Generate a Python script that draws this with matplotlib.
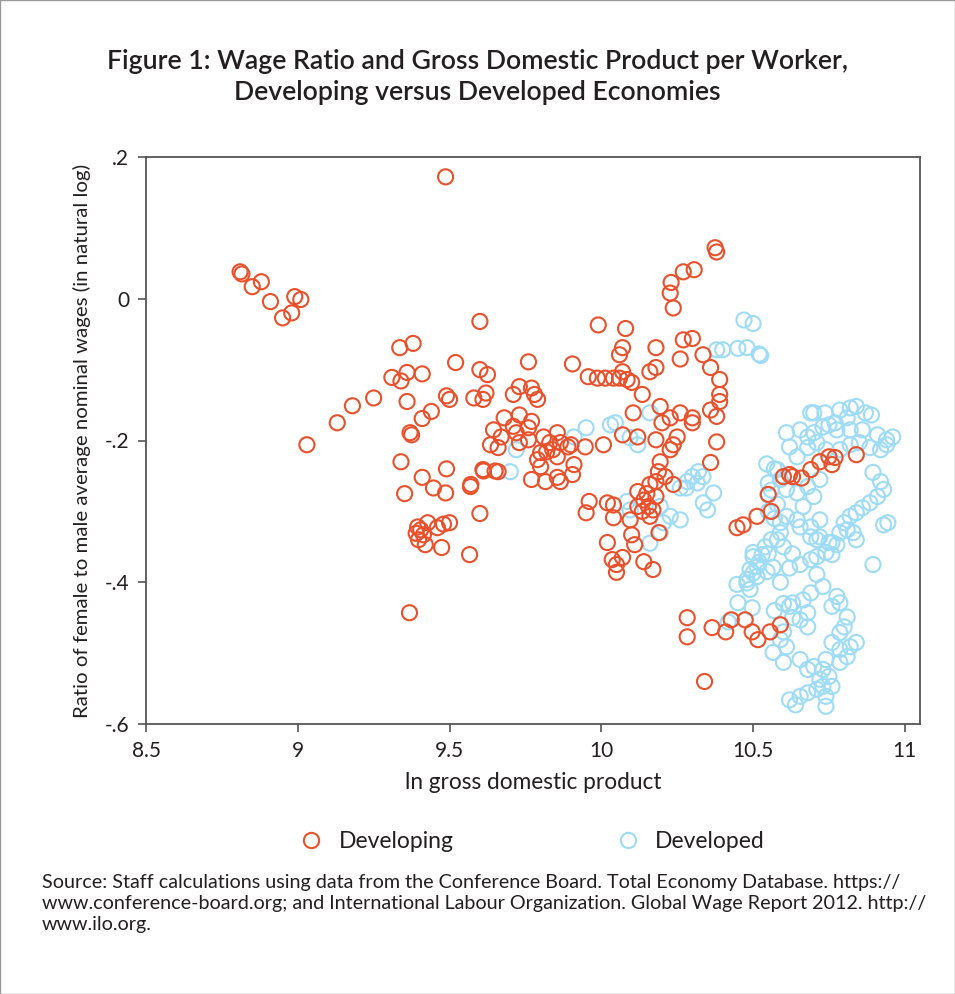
import matplotlib
matplotlib.use("Agg")
import matplotlib.pyplot as plt
from matplotlib.lines import Line2D
from matplotlib.patches import Rectangle

# ── data ──────────────────────────────────────────────────────────────────────

DEV_X = [
    8.81, 8.816, 8.85, 8.88, 8.91, 8.95, 8.98, 8.99, 9.01, 9.03, 9.13, 9.18,
    9.336, 9.38, 9.52, 9.31, 9.34, 9.36, 9.41, 9.25, 9.36, 9.44, 9.41, 9.37,
    9.375, 9.49, 9.50, 9.34, 9.41, 9.49, 9.352, 9.447, 9.487, 9.569, 9.612,
    9.65, 9.60, 9.395, 9.405, 9.414, 9.398, 9.42, 9.428, 9.39, 9.46, 9.48,
    9.50, 9.474, 9.566, 9.368, 9.487,
    9.60, 9.99, 9.60, 9.625, 9.76, 9.905, 9.957, 9.987, 10.013, 10.04, 10.06,
    10.085, 10.10, 10.07, 9.58, 9.62, 9.61, 9.71, 9.73, 9.77, 9.78, 9.79,
    9.68, 9.73, 9.77, 9.645, 9.71, 9.72, 9.76, 9.67, 9.635, 9.66, 9.73, 9.76,
    9.81, 9.855, 9.83, 9.865, 9.89, 9.80, 9.82, 9.84, 9.90, 9.79, 9.855, 9.80,
    9.91, 9.77, 9.816, 9.855, 9.865, 9.905, 9.947, 10.007, 9.61, 9.66, 9.57,
    9.96, 9.95, 10.02,
    10.375, 10.38, 10.27, 10.306, 10.23, 10.227, 10.237, 10.08, 10.07, 10.06,
    10.18, 10.27, 10.30, 10.26, 10.335, 10.36, 10.16, 10.18, 10.135, 10.194,
    10.105, 10.26, 10.30, 10.36, 10.39, 10.39, 10.39, 10.38,
    10.07, 10.12, 10.18, 10.20, 10.227, 10.30, 10.25, 10.237, 10.227, 10.38,
    10.194, 10.36, 10.188, 10.21, 10.237, 10.16, 10.18, 10.12, 10.14, 10.155,
    10.17, 10.135, 10.16, 10.12, 10.18, 10.15, 10.095, 10.04, 10.04, 10.10,
    10.11, 10.19, 10.02, 10.036, 10.05, 10.05, 10.07, 10.14, 10.17,
    10.283, 10.283, 10.365, 10.41, 10.428, 10.474, 10.497, 10.516, 10.34,
    10.556, 10.59,
    10.447, 10.467, 10.513, 10.56, 10.55, 10.60, 10.62, 10.63, 10.66, 10.69,
    10.72, 10.75, 10.77, 10.76, 10.84,
]
DEV_Y = [
    0.038, 0.035, 0.017, 0.024, -0.004, -0.027, -0.020, 0.003, -0.001, -0.206, -0.175, -0.151,
    -0.069, -0.063, -0.090, -0.111, -0.116, -0.104, -0.106, -0.140, -0.145, -0.159, -0.169, -0.189,
    -0.192, -0.137, -0.142, -0.230, -0.252, -0.240, -0.275, -0.267, -0.274, -0.265, -0.243,
    -0.243, -0.303, -0.322, -0.326, -0.333, -0.340, -0.347, -0.316, -0.331, -0.323, -0.318,
    -0.316, -0.351, -0.361, -0.443, 0.172,
    -0.032, -0.037, -0.100, -0.107, -0.089, -0.092, -0.110, -0.112, -0.112, -0.112, -0.112,
    -0.114, -0.118, -0.103, -0.140, -0.133, -0.142, -0.135, -0.124, -0.126, -0.135, -0.142,
    -0.168, -0.164, -0.173, -0.185, -0.180, -0.189, -0.182, -0.195, -0.206, -0.210, -0.203, -0.199,
    -0.195, -0.189, -0.203, -0.203, -0.209, -0.217, -0.216, -0.213, -0.206, -0.227, -0.223, -0.237,
    -0.234, -0.255, -0.258, -0.252, -0.258, -0.248, -0.209, -0.206, -0.241, -0.244, -0.262,
    -0.286, -0.302, -0.288,
    0.072, 0.066, 0.038, 0.041, 0.023, 0.008, -0.013, -0.042, -0.069, -0.079,
    -0.069, -0.058, -0.056, -0.085, -0.079, -0.097, -0.103, -0.097, -0.135, -0.152,
    -0.161, -0.161, -0.168, -0.157, -0.114, -0.135, -0.145, -0.166,
    -0.192, -0.195, -0.199, -0.175, -0.168, -0.175, -0.195, -0.206, -0.213, -0.202,
    -0.230, -0.231, -0.244, -0.251, -0.262, -0.262, -0.258, -0.272, -0.284, -0.293,
    -0.298, -0.300, -0.307, -0.293, -0.279, -0.275, -0.312, -0.291, -0.309, -0.333,
    -0.347, -0.330, -0.344, -0.368, -0.375, -0.386, -0.365, -0.371, -0.382,
    -0.450, -0.477, -0.464, -0.470, -0.453, -0.453, -0.470, -0.481, -0.540,
    -0.470, -0.460,
    -0.323, -0.319, -0.307, -0.300, -0.276, -0.251, -0.248, -0.251, -0.253, -0.241,
    -0.230, -0.223, -0.224, -0.234, -0.220,
]

DEVD_X = [
    9.72, 9.95, 9.91, 10.03, 9.70, 10.38, 10.47, 10.50, 10.40, 10.45, 10.48,
    10.52, 10.525, 10.69, 10.046, 10.095, 10.12, 10.16,
    10.26, 10.283, 10.30, 10.32, 10.335, 10.28, 10.316, 10.37, 10.336, 10.35,
    10.085, 10.095, 10.194, 10.227, 10.26, 10.204, 10.194, 10.16,
    10.50, 10.53, 10.447, 10.48, 10.50, 10.513, 10.49, 10.45, 10.497, 10.418,
    10.545, 10.55,
    10.70, 10.737, 10.786, 10.82, 10.84, 10.87, 10.89, 10.81, 10.77,
    10.61, 10.655, 10.68, 10.70, 10.73, 10.75, 10.776, 10.82, 10.86, 10.91, 10.94, 10.96,
    10.62, 10.645, 10.68, 10.71, 10.74, 10.786, 10.82, 10.85, 10.885, 10.92, 10.94,
    10.58, 10.59, 10.61, 10.645, 10.68, 10.72,
    10.895, 10.92, 10.93, 10.91, 10.885, 10.86, 10.84, 10.93, 10.944,
    10.82, 10.80, 10.786, 10.76, 10.81, 10.83,
    10.70, 10.665, 10.645, 10.61, 10.59, 10.655, 10.69, 10.72, 10.72, 10.69, 10.58,
    10.71, 10.75, 10.776, 10.84,
    10.50, 10.52, 10.49, 10.513, 10.48, 10.546, 10.566,
    10.655, 10.69, 10.71, 10.74, 10.76, 10.71, 10.895,
    10.73, 10.69, 10.665, 10.63, 10.62, 10.68, 10.655, 10.68, 10.776, 10.786,
    10.76, 10.81, 10.80, 10.786,
    10.59, 10.61, 10.566, 10.60, 10.655, 10.68, 10.70,
    10.76, 10.786, 10.82, 10.84, 10.81, 10.786, 10.74, 10.73, 10.75, 10.72, 10.73, 10.76,
    10.71, 10.74, 10.74, 10.68, 10.655, 10.62, 10.64,
    10.57, 10.55, 10.56, 10.58, 10.55, 10.57, 10.59, 10.56, 10.54, 10.55, 10.60,
    10.63, 10.59, 10.62, 10.63, 10.60, 10.57, 10.60,
]
DEVD_Y = [
    -0.213, -0.182, -0.195, -0.178, -0.244, -0.072, -0.030, -0.035, -0.072, -0.070, -0.069,
    -0.078, -0.080, -0.161, -0.175, -0.196, -0.206, -0.161,
    -0.267, -0.258, -0.251, -0.244, -0.251, -0.267, -0.260, -0.274, -0.288, -0.298,
    -0.286, -0.298, -0.293, -0.307, -0.312, -0.316, -0.330, -0.345,
    -0.358, -0.361, -0.403, -0.396, -0.387, -0.378, -0.410, -0.429, -0.436, -0.456,
    -0.233, -0.277,
    -0.161, -0.161, -0.157, -0.154, -0.152, -0.161, -0.164, -0.168, -0.175,
    -0.189, -0.185, -0.195, -0.189, -0.181, -0.178, -0.185, -0.185, -0.185, -0.192, -0.199, -0.195,
    -0.209, -0.223, -0.210, -0.203, -0.213, -0.213, -0.206, -0.203, -0.210, -0.213, -0.206,
    -0.241, -0.255, -0.269, -0.274, -0.265, -0.255,
    -0.245, -0.258, -0.269, -0.279, -0.288, -0.295, -0.302, -0.319, -0.316,
    -0.307, -0.316, -0.330, -0.344, -0.326, -0.330,
    -0.279, -0.293, -0.312, -0.307, -0.316, -0.322, -0.322, -0.312, -0.336, -0.336, -0.340,
    -0.340, -0.344, -0.347, -0.340,
    -0.364, -0.372, -0.382, -0.392, -0.401, -0.385, -0.379,
    -0.375, -0.368, -0.364, -0.358, -0.361, -0.389, -0.375,
    -0.406, -0.415, -0.425, -0.429, -0.434, -0.443, -0.453, -0.463, -0.420, -0.429,
    -0.434, -0.449, -0.463, -0.471,
    -0.481, -0.491, -0.499, -0.513, -0.509, -0.523, -0.519,
    -0.485, -0.495, -0.491, -0.485, -0.505, -0.513, -0.509, -0.523, -0.533, -0.537, -0.547, -0.547,
    -0.551, -0.561, -0.575, -0.556, -0.561, -0.566, -0.573,
    -0.240, -0.260, -0.270, -0.290, -0.300, -0.310, -0.330, -0.340, -0.350, -0.360, -0.350,
    -0.360, -0.400, -0.380, -0.450, -0.470, -0.440, -0.430,
]

X_TICKS = [8.5, 9, 9.5, 10, 10.5, 11]
X_TICK_LABELS = ["8.5", "9", "9.5", "10", "10.5", "11"]
Y_TICKS = [0.2, 0, -0.2, -0.4, -0.6]
Y_TICK_LABELS = [".2", "0", "-.2", "-.4", "-.6"]

# ── style ─────────────────────────────────────────────────────────────────────

ORANGE = "#E8512B"
BLUE = "#9EDBF6"
TEXT = "#231F20"
FONT = ["Lato", "DejaVu Sans"]

plt.rcParams["font.family"] = FONT

fig = plt.figure(figsize=(9.55, 9.94), dpi=100, facecolor="white")
fig.patches.append(Rectangle((0.0005, 0.0005), 0.999, 0.999, transform=fig.transFigure,
                             fill=False, edgecolor="#9a9a9a", linewidth=1.0))

ax = fig.add_axes([146 / 955, 1 - 724 / 994, (920 - 146) / 955, (724 - 157) / 994])

ax.scatter(DEVD_X, DEVD_Y, s=118, facecolors="none", edgecolors=BLUE,
           linewidths=1.5, zorder=2)
ax.scatter(DEV_X, DEV_Y, s=118, facecolors="none", edgecolors=ORANGE,
           linewidths=1.5, zorder=3)

ax.set_xlim(8.5, 11.05)
ax.set_ylim(-0.6, 0.2)
ax.set_xticks(X_TICKS)
ax.set_xticklabels(X_TICK_LABELS)
ax.set_yticks(Y_TICKS)
ax.set_yticklabels(Y_TICK_LABELS)
ax.tick_params(axis="both", length=6, width=1.2, colors="#555555",
               labelsize=15, labelcolor=TEXT, pad=6)
for spine in ax.spines.values():
    spine.set_linewidth(1.3)
    spine.set_color("#555555")

ax.set_xlabel("ln gross domestic product", fontsize=16.3, color=TEXT, labelpad=8)
ax.set_ylabel("Ratio of female to male average nominal wages (in natural log)",
              fontsize=14.7, color=TEXT, labelpad=10)

fig.text(0.5, 1 - 77 / 994,
         "Figure 1: Wage Ratio and Gross Domestic Product per Worker,\n"
         "Developing versus Developed Economies",
         ha="center", va="center", fontsize=19.2, fontweight="semibold",
         color=TEXT, linespacing=1.3)

handles = [
    Line2D([], [], linestyle="none", marker="o", markersize=11, markerfacecolor="none",
           markeredgecolor=ORANGE, markeredgewidth=1.5, label="Developing"),
    Line2D([], [], linestyle="none", marker="o", markersize=11, markerfacecolor="none",
           markeredgecolor=BLUE, markeredgewidth=1.5, label="Developed"),
]
fig.legend(handles=handles, loc="center", bbox_to_anchor=(531 / 955, 1 - 842 / 994),
           ncol=2, frameon=False, fontsize=16.5, columnspacing=7.0, handletextpad=0.6,
           handlelength=1.2, labelcolor=TEXT)

fig.text(42 / 955, 1 - 874 / 994,
         "Source: Staff calculations using data from the Conference Board. Total Economy Database. https://\n"
         "www.conference-board.org; and International Labour Organization. Global Wage Report 2012. http://\n"
         "www.ilo.org.",
         ha="left", va="top", fontsize=14.2, color=TEXT, linespacing=1.3)

fig.savefig("out.png", dpi=100, facecolor="white")
